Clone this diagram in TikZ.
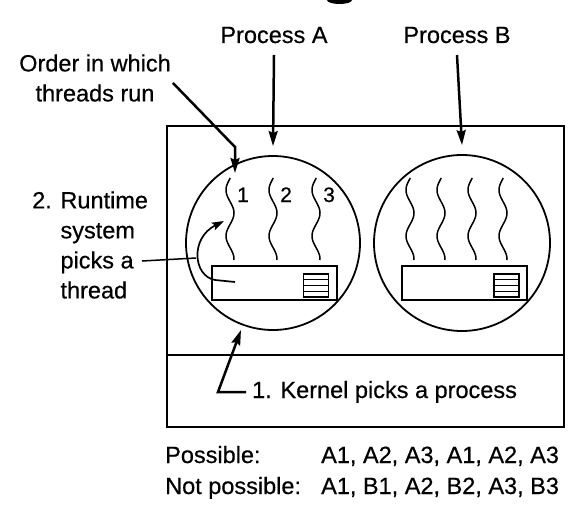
\documentclass[tikz,border=0pt]{standalone}
\usepackage{fontspec}
\setmainfont{Liberation Sans}[FakeBold=0.5]
\usetikzlibrary{arrows.meta}

\begin{document}
\begin{tikzpicture}[x=1pt, y=-1pt,
                    every node/.style={inner sep=0pt,
                                       font=\fontsize{23.5}{30}\selectfont},
                    frame/.style={line width=2pt},
                    bigarrow/.style={line width=2.5pt,
                                     -{Stealth[length=15pt, width=9pt, inset=2pt]}},
                    wave/.style={line width=1.5pt}]
  \useasboundingbox (0,0) rectangle (580,524);

  \fill (327,0) arc[start angle=180, end angle=0, x radius=12.5, y radius=4] -- cycle;

  \draw[frame] (167,126) rectangle (564,427);
  \draw[frame] (167,355) -- (564,355);

  \node[circle, draw, line width=1.8pt, minimum size=174pt] (cirA) at (273,243) {};
  \node[circle, draw, line width=1.8pt, minimum size=176pt] (cirB) at (462,243) {};

  \foreach \cx in {273.5, 464} {
      \draw[frame] (\cx-62,266) rectangle (\cx+63,300);
      \draw[line width=1.6pt] (\cx+30,274) rectangle (\cx+55,297);
      \foreach \gy in {279.75, 285.5, 291.25} {
          \draw[line width=1.3pt] (\cx+30,\gy) -- (\cx+55,\gy);
        }
    }

  \foreach \sx in {230, 273, 316, 410, 441, 472, 503} {
      \draw[wave] plot[domain=178:260, samples=60] ({\sx-4*cos((\x-190)*7.826)}, \x);
    }
  \foreach \sx/\n in {230/1, 273/2, 316/3} {
      \node[anchor=base west, font=\fontsize{21}{21}\selectfont] (num\n) at (\sx+7,202) {\n};
    }

  \node[anchor=base] (procA) at (274,43) {Process A};
  \node[anchor=base] (procB) at (457,43) {Process B};
  \draw[bigarrow] ([yshift=-12pt]procA.base) -- ([yshift=9pt]cirA.north);
  \draw[bigarrow] ([yshift=-12pt]procB.base) -- ([yshift=9pt]cirB.north);

  \node[align=center] (order) at (95,78) {Order in which\\threads run};
  \coordinate (bend) at (235,147);
  \coordinate (first) at (235,173);
  \draw[bigarrow] ([xshift=2pt, yshift=-5pt]order.east) -- (bend) -- (first);

  \node[align=left, anchor=west] (rts) at (32,245) {2. Runtime\\\phantom{2. }system\\\phantom{2. }picks a\\\phantom{2. }thread};
  \coordinate (pickin) at (235,282);
  \coordinate (pickout) at (224,221);
  \draw[line width=1.7pt, -{Stealth[length=12pt, width=8pt, inset=2pt]}]
      (pickin) -- (215,280) .. controls (193,276) and (190,238) .. (pickout);
  \draw[line width=1.5pt] (142,261) -- (196,258);

  \node[anchor=base west] (kern) at (252,398) {1. Kernel picks a process};
  \coordinate (corner) at (218,392);
  \draw[bigarrow] ([xshift=-6pt, yshift=6pt]kern.base west) -- (corner) -- (241,330);

  \node[anchor=base west] (poss) at (165,463) {Possible:};
  \node[anchor=base west] (possl) at (321,463) {A1, A2, A3, A1, A2, A3};
  \node[anchor=base west] (nposs) at (165,494) {Not possible:};
  \node[anchor=base west] (npossl) at (321,494) {A1, B1, A2, B2, A3, B3};
\end{tikzpicture}
\end{document}
